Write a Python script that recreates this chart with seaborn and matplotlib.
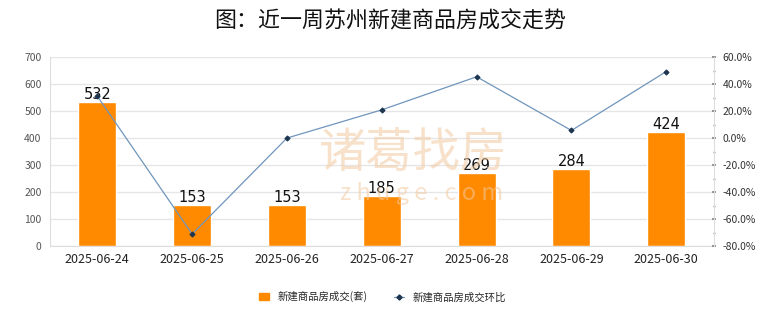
import matplotlib
matplotlib.use("Agg")
import matplotlib.pyplot as plt
import matplotlib.ticker as mticker
from matplotlib.lines import Line2D
from matplotlib.patches import Patch
import seaborn as sns
import pandas as pd

dates = ["2025-06-24", "2025-06-25", "2025-06-26", "2025-06-27",
         "2025-06-28", "2025-06-29", "2025-06-30"]
deals = [532, 153, 153, 185, 269, 284, 424]
mom_pct = [31.0, -71.2, 0.0, 20.9, 45.4, 5.6, 49.3]

title = "图：近一周苏州新建商品房成交走势"
bar_label = "新建商品房成交(套)"
line_label = "新建商品房成交环比"

sns.set_theme(style="white")
plt.rcParams["font.family"] = ["Noto Sans CJK SC", "DejaVu Sans"]

df = pd.DataFrame({"date": dates, "deals": deals, "mom": mom_pct})

fig = plt.figure(figsize=(7.8, 3.28), dpi=100)
ax = fig.add_axes([0.064, 0.25, 0.851, 0.576])

bar_color = "#FF8A00"
line_color = "#7095BC"
marker_color = "#1E3550"
grid_color = "#E6E6E6"

sns.barplot(data=df, x="date", y="deals", color=bar_color, width=0.4,
            saturation=1, ax=ax, zorder=2)
ax.set_ylim(0, 700)
ax.set_xlim(-0.5, len(dates) - 0.5)
ax.yaxis.set_major_locator(mticker.MultipleLocator(100))
ax.grid(axis="y", color=grid_color, linewidth=1, zorder=0)
ax.set_axisbelow(True)
ax.set_xlabel("")
ax.set_ylabel("")
ax.tick_params(axis="y", labelsize=7.5, labelcolor="#555555", length=0, pad=6)
ax.tick_params(axis="x", labelsize=9, labelcolor="#222222", length=0, pad=5)
for s in ["top", "right"]:
    ax.spines[s].set_visible(False)
for s in ["left", "bottom"]:
    ax.spines[s].set_color("#DDDDDD")
    ax.spines[s].set_linewidth(0.8)

for container in ax.containers:
    ax.bar_label(container, labels=[str(v) for v in deals], fontsize=10.5,
                 color="#111111", padding=0, family=["DejaVu Sans"])

# faint brand watermark behind the plot
fig.text(0.53, 0.53, "诸葛找房", fontsize=34, color="#F3C9A0", alpha=0.55,
         ha="center", va="center", zorder=0.5)
fig.text(0.54, 0.41, "z h u g e . c o m", fontsize=17, color="#F3C9A0",
         alpha=0.55, ha="center", va="center", zorder=0.5)

ax2 = ax.twinx()
sns.lineplot(data=df, x="date", y="mom", ax=ax2, sort=False, color=line_color,
             linewidth=0.9, marker="D", markersize=2.6,
             markerfacecolor=marker_color, markeredgecolor=marker_color)
ax2.set_ylim(-80, 60)
ax2.yaxis.set_major_locator(mticker.MultipleLocator(20))
ax2.yaxis.set_minor_locator(mticker.MultipleLocator(10))
ax2.yaxis.set_major_formatter(mticker.FuncFormatter(lambda v, p: f"{v:.1f}%"))
ax2.tick_params(axis="y", which="major", labelsize=7.5, labelcolor="#333333",
                length=3, color="#888888", pad=5, direction="inout")
ax2.tick_params(axis="y", which="minor", length=2, color="#888888",
                direction="inout")
ax2.set_ylabel("")
ax2.set_xlabel("")
for s in ["top", "left", "bottom"]:
    ax2.spines[s].set_visible(False)
ax2.spines["right"].set_color("#DDDDDD")
ax2.spines["right"].set_linewidth(0.8)
if ax2.get_legend() is not None:
    ax2.get_legend().remove()

handles = [
    Patch(facecolor=bar_color, edgecolor=bar_color, label=bar_label),
    Line2D([0], [0], color=line_color, linewidth=0.9, marker="D",
           markersize=2.6, markerfacecolor=marker_color,
           markeredgecolor=marker_color, label=line_label),
]
fig.legend(handles=handles, loc="center", bbox_to_anchor=(0.49, 0.095),
           ncol=2, frameon=False, fontsize=7.5, handlelength=1.0,
           handleheight=0.7, columnspacing=2.5, handletextpad=0.8)

fig.text(0.5, 0.935, title, fontsize=15.8, color="#111111", ha="center",
         va="center", fontweight="medium")

fig.savefig("out.png", dpi=100, facecolor="white")
